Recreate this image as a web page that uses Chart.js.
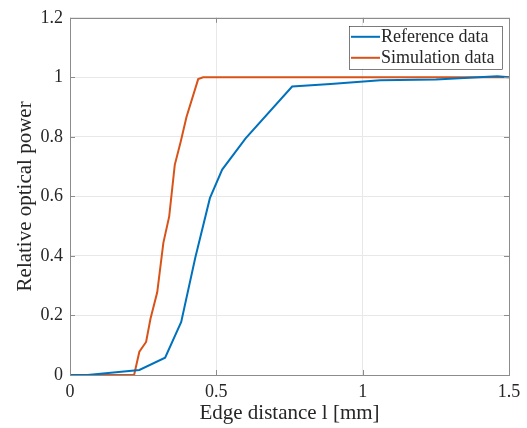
<!DOCTYPE html>
<html>
<head>
<meta charset="utf-8">
<script src="https://cdn.jsdelivr.net/npm/chart.js@4/dist/chart.umd.min.js"></script>
<style>
  html, body { margin: 0; padding: 0; background: #fff; }
  #wrap { width: 527px; height: 428px; }
</style>
</head>
<body>
<div id="wrap"><canvas id="chart"></canvas></div>
<script>
// reference (measured) data
const refX = [0, 0.06, 0.237, 0.325, 0.38, 0.428, 0.478, 0.52, 0.6, 0.759, 0.89, 1.06, 1.25, 1.46, 1.5];
const refY = [0, 0, 0.017, 0.058, 0.178, 0.394, 0.594, 0.69, 0.795, 0.969, 0.978, 0.99, 0.993, 1.004, 1.0];

// simulation data
const simX = [0, 0.219, 0.237, 0.26, 0.275, 0.298, 0.319, 0.339, 0.358, 0.378, 0.398, 0.438, 0.455, 1.0, 1.5];
const simY = [0, 0, 0.078, 0.111, 0.189, 0.278, 0.444, 0.533, 0.706, 0.783, 0.867, 0.994, 1.0, 1.0, 1.0];

const xTicks = [0, 0.5, 1, 1.5];
const yTicks = [0, 0.2, 0.4, 0.6, 0.8, 1, 1.2];

const serif = "'Liberation Serif', 'DejaVu Serif', serif";
const textColor = "#262626";
const axisColor = "#8c8c8c";

function toPoints(xs, ys) {
  return xs.map((x, i) => ({ x: x, y: ys[i] }));
}

// box, inward ticks and legend, drawn like matlab does it
const axesBox = {
  id: "axesBox",
  afterDatasetsDraw(chart) {
    const ctx = chart.ctx;
    const a = chart.chartArea;
    const xs = chart.scales.x;
    const ys = chart.scales.y;
    const tl = 5;
    ctx.save();
    ctx.strokeStyle = axisColor;
    ctx.lineWidth = 1;
    ctx.beginPath();
    xTicks.forEach((v) => {
      const px = Math.round(xs.getPixelForValue(v)) + 0.5;
      ctx.moveTo(px, a.bottom);
      ctx.lineTo(px, a.bottom - tl);
      ctx.moveTo(px, a.top);
      ctx.lineTo(px, a.top + tl);
    });
    yTicks.forEach((v) => {
      const py = Math.round(ys.getPixelForValue(v)) + 0.5;
      ctx.moveTo(a.left, py);
      ctx.lineTo(a.left + tl, py);
      ctx.moveTo(a.right, py);
      ctx.lineTo(a.right - tl, py);
    });
    ctx.stroke();
    ctx.strokeRect(Math.round(a.left) + 0.5, Math.round(a.top) + 0.5,
      Math.round(a.right - a.left), Math.round(a.bottom - a.top));

    // legend in the upper right corner
    const lx = a.right - 160, ly = a.top + 8, lw = 153, lh = 43;
    ctx.fillStyle = "#fff";
    ctx.fillRect(lx, ly, lw, lh);
    ctx.strokeStyle = "#262626";
    ctx.lineWidth = 0.6;
    ctx.strokeRect(lx + 0.5, ly + 0.5, lw, lh);
    ctx.font = "18px " + serif;
    ctx.textBaseline = "middle";
    chart.data.datasets.forEach((ds, i) => {
      const cy = ly + 11 + i * 21;
      ctx.strokeStyle = ds.borderColor;
      ctx.lineWidth = 2;
      ctx.beginPath();
      ctx.moveTo(lx + 2, cy);
      ctx.lineTo(lx + 31, cy);
      ctx.stroke();
      ctx.fillStyle = textColor;
      ctx.fillText(ds.label, lx + 32, cy);
    });
    ctx.restore();
  }
};

new Chart(document.getElementById("chart"), {
  type: "line",
  data: {
    datasets: [
      {
        label: "Reference data",
        data: toPoints(refX, refY),
        borderColor: "#0072BD",
        borderWidth: 2,
        pointRadius: 0,
        fill: false,
        tension: 0
      },
      {
        label: "Simulation data",
        data: toPoints(simX, simY),
        borderColor: "#D95319",
        borderWidth: 2,
        pointRadius: 0,
        fill: false,
        tension: 0
      }
    ]
  },
  options: {
    responsive: true,
    maintainAspectRatio: false,
    animation: false,
    layout: { padding: { top: 15, right: 18, left: 0, bottom: 0 } },
    plugins: {
      legend: { display: false },
      tooltip: { enabled: false }
    },
    scales: {
      x: {
        type: "linear",
        min: 0,
        max: 1.5,
        afterBuildTicks: (s) => { s.ticks = xTicks.map((v) => ({ value: v })); },
        afterFit: (s) => { s.height = 53; },
        ticks: {
          color: textColor,
          font: { family: serif, size: 18 },
          padding: 6,
          maxRotation: 0,
          callback: (v) => String(v)
        },
        grid: { color: "#e8e8e8", drawTicks: false },
        border: { display: false },
        title: {
          display: true,
          text: "Edge distance l [mm]",
          color: textColor,
          font: { family: serif, size: 21 },
          padding: { top: 0, bottom: 2 }
        }
      },
      y: {
        min: 0,
        max: 1.2,
        afterBuildTicks: (s) => { s.ticks = yTicks.map((v) => ({ value: v })); },
        afterFit: (s) => { s.width = 70; },
        ticks: {
          color: textColor,
          font: { family: serif, size: 18 },
          padding: 7,
          callback: (v) => String(Math.round(v * 10) / 10)
        },
        grid: { color: "#e8e8e8", drawTicks: false },
        border: { display: false },
        title: {
          display: true,
          text: "Relative optical power",
          color: textColor,
          font: { family: serif, size: 21 },
          padding: { top: 13, bottom: 0 }
        }
      }
    }
  },
  plugins: [axesBox]
});
</script>
</body>
</html>
